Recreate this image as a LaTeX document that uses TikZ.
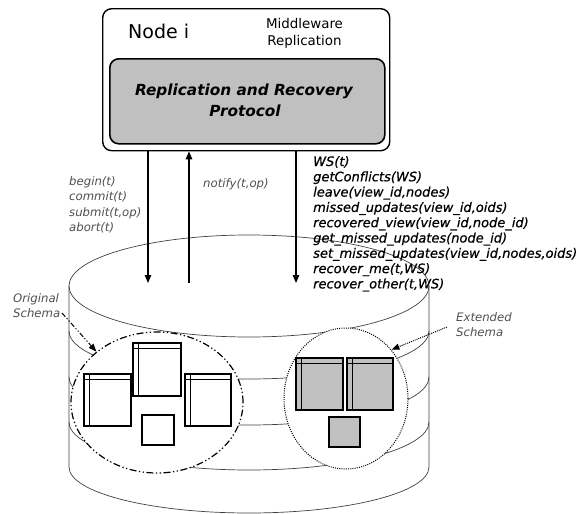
\documentclass[tikz,border=0pt]{standalone}
\usepackage{fontspec}
\setmainfont{DejaVu Sans}
\newfontfamily\callfont{DejaVu Sans}[UprightFont={* Oblique}, FakeBold=0.6]
\usetikzlibrary{arrows.meta,shapes.geometric}
\definecolor{panel}{HTML}{C0C0C0}
\definecolor{note}{HTML}{505050}
\definecolor{rim}{HTML}{404040}

% a database table: outer frame plus header row and key column lines
\newcommand\schemaTable[5]{%
  \filldraw[fill=#5, draw=black, line width=1.3pt] (#1,#2) rectangle (#3,#4);
  \draw[line width=0.9pt] (#1,{#2+5}) -- (#3,{#2+5});
  \draw[line width=0.9pt] ({#1+5},#2) -- ({#1+5},#4);
}

\begin{document}
\begin{tikzpicture}[x=1pt,y=-1pt,
  cyl/.style={draw=rim, line width=0.7pt},
  frame/.style={draw, line width=1.4pt, rounded corners=9pt, inner sep=0pt},
  flow/.style={line width=1.3pt, -{Triangle[length=8pt,width=6.5pt]}},
  lbl/.style={text=note, font=\fontsize{11.7}{14}\selectfont\itshape, inner sep=0pt, anchor=base west},
  call/.style={font=\fontsize{13}{15}\selectfont\callfont, inner sep=0pt, anchor=base west},
  sq/.style={draw, line width=1.3pt}
]
\useasboundingbox (0,0) rectangle (579,514);

% ---- the database cylinder ----
\draw[cyl] (69,286) -- (69,467) arc[start angle=180,end angle=0,x radius=180,y radius=46] -- (429,286);
\draw[cyl] (249,286) ellipse[x radius=180, y radius=51];
\foreach \e in {331,377,422}
  \draw[cyl] (69,\e) arc[start angle=180,end angle=0,x radius=180,y radius=48];

% ---- schemas ----
\node[ellipse, draw, fill=white, line width=1.2pt, minimum width=172pt, minimum height=141pt,
      dash pattern=on 7pt off 2.5pt on 1.3pt off 2.5pt on 1.3pt off 2.5pt] (orig) at (157,402.5) {};
\node[ellipse, draw, fill=white, line width=1pt, minimum width=124pt, minimum height=141pt,
      dash pattern=on 1pt off 1.2pt] (ext) at (346,398.5) {};

\schemaTable{133}{343}{181}{396}{white}
\schemaTable{84}{374}{131}{426}{white}
\schemaTable{185}{374}{231}{426}{white}
\draw[sq] (142,415) rectangle (174,445);

\schemaTable{296}{358}{343}{410}{panel}
\schemaTable{347}{358}{393}{410}{panel}
\filldraw[sq, fill=panel] (329,417) rectangle (360,447);

% ---- schema labels ----
\node[lbl] (orl1) at (13,302) {Original};
\node[lbl] (orl2) at (13,317) {Schema};
\node[lbl] (exl1) at (456,321) {Extended};
\node[lbl] (exl2) at (456,336) {Schema};
\coordinate (os) at (62,313);
\coordinate (es) at (447,327);
\draw[line width=1pt, dash pattern=on 5pt off 2pt on 1.2pt off 2pt on 1.2pt off 2pt,
      -{Triangle[length=8pt,width=6pt]}] (os) -- (orig.140);
\draw[line width=1pt, dash pattern=on 1pt off 1pt,
      -{Triangle[length=8pt,width=6pt]}] (es) -- (ext.47);

% ---- middleware node ----
\node[frame, minimum width=287pt, minimum height=142pt, anchor=north west] (mw) at (102,8) {};
\node[frame, fill=panel, line width=1.6pt, minimum width=275pt, minimum height=85pt, anchor=north west] (proto) at (109,58) {};
\node[inner sep=0pt, anchor=base west, font=\fontsize{19}{22}\selectfont] (ni) at (128,38) {Node i};
\node[inner sep=0pt, anchor=base, font=\fontsize{13.4}{16}\selectfont] (mr1) at (304.5,28) {Middleware};
\node[inner sep=0pt, anchor=base, font=\fontsize{13.4}{16}\selectfont] (mr2) at (304.5,45.5) {Replication};
\node[inner sep=0pt, anchor=base, font=\fontsize{15.3}{18}\selectfont\bfseries\itshape] (pt1) at (244,95) {Replication and Recovery};
\node[inner sep=0pt, anchor=base, font=\fontsize{15.3}{18}\selectfont\bfseries\itshape] (pt2) at (245,116.5) {Protocol};

% ---- interface calls ----
\coordinate (t1) at (148,283);
\coordinate (t2) at (189,283);
\coordinate (t3) at (296,283);
\draw[flow] (mw.south -| t1) -- (t1);
\draw[flow] (t2) -- (mw.south -| t2);
\draw[flow] (mw.south -| t3) -- (t3);

\foreach \t [count=\i from 0] in {begin(t),commit(t),submit(t{,}op),abort(t)}
  \node[lbl] (in\i) at (69,{185.5+15.3*\i}) {\t};
\node[lbl] (nt) at (203,187.5) {notify(t,op)};

\foreach \t [count=\i from 0] in {WS(t),getConflicts(WS),leave(view\_id{,}nodes),
    missed\_updates(view\_id{,}oids),recovered\_view(view\_id{,}node\_id),
    get\_missed\_updates(node\_id),set\_missed\_updates(view\_id{,}nodes{,}oids),
    recover\_me(t{,}WS),recover\_other(t{,}WS)}
  \node[call] (rc\i) at (313,{166+15.3*\i}) {\t};
\end{tikzpicture}
\end{document}
